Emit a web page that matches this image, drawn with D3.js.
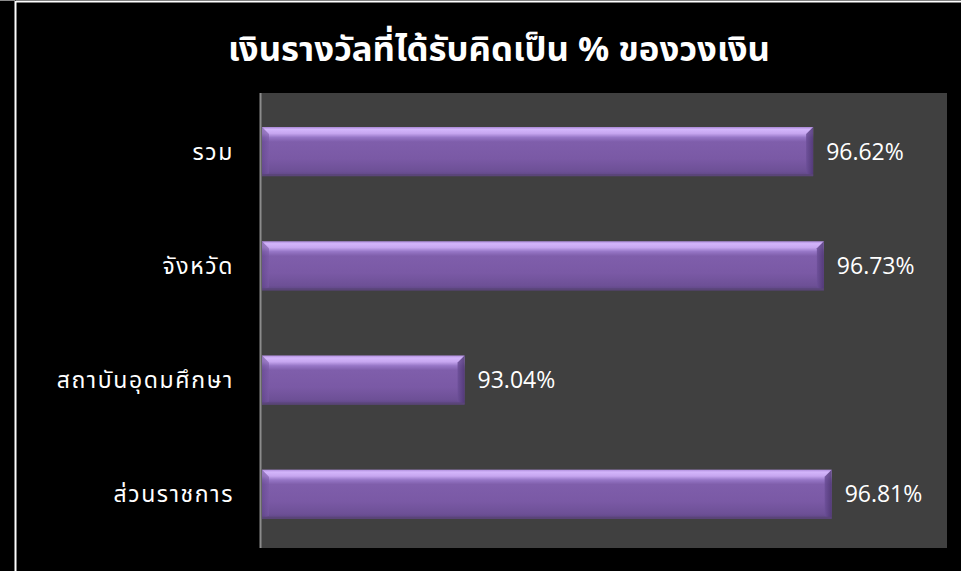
<!DOCTYPE html>
<html>
<head>
<meta charset="utf-8">
<script src="https://cdn.jsdelivr.net/npm/d3@7"></script>
<style>
  html, body { margin: 0; padding: 0; background: #000; }
  svg { display: block; }
</style>
</head>
<body>
<svg id="chart" width="961" height="571"></svg>
<script>
// Prize money received as a percentage of the budget, by group
const categories = ["รวม", "จังหวัด", "สถาบันอุดมศึกษา", "ส่วนราชการ"];
const values = [96.62, 96.73, 93.04, 96.81];
const valueLabels = ["96.62%", "96.73%", "93.04%", "96.81%"];
const xDomain = [90.96, 98];
const titleText = "เงินรางวัลที่ได้รับคิดเป็น % ของวงเงิน";

const W = 961, H = 571;
const plot = { left: 260, top: 93, right: 947, bottom: 548 };

const svg = d3.select("#chart");

// page frame
svg.append("rect").attr("width", W).attr("height", H).attr("fill", "#000");
svg.append("line").attr("x1", 0).attr("x2", 15).attr("y1", 0.5).attr("y2", 0.5)
  .attr("stroke", "#8a8a8a").attr("stroke-width", 1);
svg.append("line").attr("x1", 15.5).attr("x2", W).attr("y1", 1.5).attr("y2", 1.5)
  .attr("stroke", "#fff").attr("stroke-width", 2);
svg.append("line").attr("x1", 15.5).attr("x2", 15.5).attr("y1", 1).attr("y2", H)
  .attr("stroke", "#fff").attr("stroke-width", 2);

// gradients for the bevelled bars
const defs = svg.append("defs");
const g = defs.append("linearGradient").attr("id", "barFill")
  .attr("x1", 0).attr("y1", 0).attr("x2", 0).attr("y2", 1);
[[0, "#ae8cdc"], [0.05, "#d3b5fb"], [0.13, "#c6a6f0"], [0.21, "#9676c6"],
 [0.3, "#7f5eab"], [0.65, "#7a59a5"], [0.9, "#6d5096"], [1, "#5d4682"]]
  .forEach(([o, c]) => g.append("stop").attr("offset", o).attr("stop-color", c));
const gl = defs.append("linearGradient").attr("id", "bevelLeft")
  .attr("x1", 0).attr("y1", 0).attr("x2", 1).attr("y2", 0);
[[0, "#5e4388"], [1, "#7a58a6"]]
  .forEach(([o, c]) => gl.append("stop").attr("offset", o).attr("stop-color", c));
const gr = defs.append("linearGradient").attr("id", "bevelRight")
  .attr("x1", 0).attr("y1", 0).attr("x2", 1).attr("y2", 0);
[[0, "#6c4f98"], [1, "#4e3673"]]
  .forEach(([o, c]) => gr.append("stop").attr("offset", o).attr("stop-color", c));

// plot area
svg.append("rect")
  .attr("x", plot.left).attr("y", plot.top)
  .attr("width", plot.right - plot.left).attr("height", plot.bottom - plot.top)
  .attr("fill", "#404040");

const x = d3.scaleLinear().domain(xDomain).range([plot.left + 2, plot.right + 0.5]);
const y = d3.scaleBand().domain(categories).range([94.5, 551.3])
  .paddingInner(0.57).paddingOuter(0.285);

const data = categories.map((c, i) => ({ cat: c, v: values[i], label: valueLabels[i] }));

const bars = svg.append("g").selectAll("g").data(data).join("g");
const bev = 7;

bars.append("rect")
  .attr("x", x(xDomain[0]))
  .attr("y", d => y(d.cat))
  .attr("width", d => x(d.v) - x(xDomain[0]))
  .attr("height", y.bandwidth())
  .attr("fill", "url(#barFill)");

// left bevel
bars.append("path")
  .attr("d", d => {
    const x0 = x(xDomain[0]), t = y(d.cat), b = t + y.bandwidth();
    return `M${x0},${t}L${x0 + bev},${t + bev}L${x0 + bev},${b - 3}L${x0},${b}Z`;
  })
  .attr("fill", "url(#bevelLeft)").attr("opacity", 0.55);

// right bevel
bars.append("path")
  .attr("d", d => {
    const x1 = x(d.v), t = y(d.cat), b = t + y.bandwidth();
    return `M${x1},${t}L${x1 - bev},${t + bev}L${x1 - bev},${b - 3}L${x1},${b}Z`;
  })
  .attr("fill", "url(#bevelRight)").attr("opacity", 0.85);

// bottom edge
bars.append("rect")
  .attr("x", x(xDomain[0]))
  .attr("y", d => y(d.cat) + y.bandwidth() - 2)
  .attr("width", d => x(d.v) - x(xDomain[0]))
  .attr("height", 2)
  .attr("fill", "#5a4578");

// value labels
bars.append("text")
  .attr("x", d => x(d.v) + 13)
  .attr("y", d => y(d.cat) + y.bandwidth() / 2)
  .attr("dy", "0.36em")
  .attr("fill", "#fff")
  .attr("font-family", "'Open Sans', 'Noto Sans', sans-serif")
  .attr("font-size", 23)
  .text(d => d.label);

// vertical axis
const yAxis = d3.axisLeft(y).tickSize(0).tickPadding(26);
const ax = svg.append("g").attr("transform", `translate(${plot.left},0)`).call(yAxis);
ax.select(".domain").remove();
ax.selectAll("text")
  .attr("fill", "#fff")
  .attr("font-family", "'Noto Sans Thai', Tahoma, 'Noto Sans', sans-serif")
  .attr("font-size", 23)
  .attr("letter-spacing", 1.6)
  .attr("dy", "0.36em");
svg.append("line")
  .attr("x1", plot.left + 0.5).attr("x2", plot.left + 0.5)
  .attr("y1", plot.top).attr("y2", plot.bottom)
  .attr("stroke", "#8c8c8c").attr("stroke-width", 2);

// title
svg.append("text")
  .attr("x", 499).attr("y", 61)
  .attr("text-anchor", "middle")
  .attr("fill", "#fff")
  .attr("font-family", "'Noto Sans Thai', Tahoma, 'Noto Sans', sans-serif")
  .attr("font-weight", "bold")
  .attr("font-size", 34)
  .attr("textLength", 542)
  .attr("lengthAdjust", "spacingAndGlyphs")
  .text(titleText);
</script>
</body>
</html>
